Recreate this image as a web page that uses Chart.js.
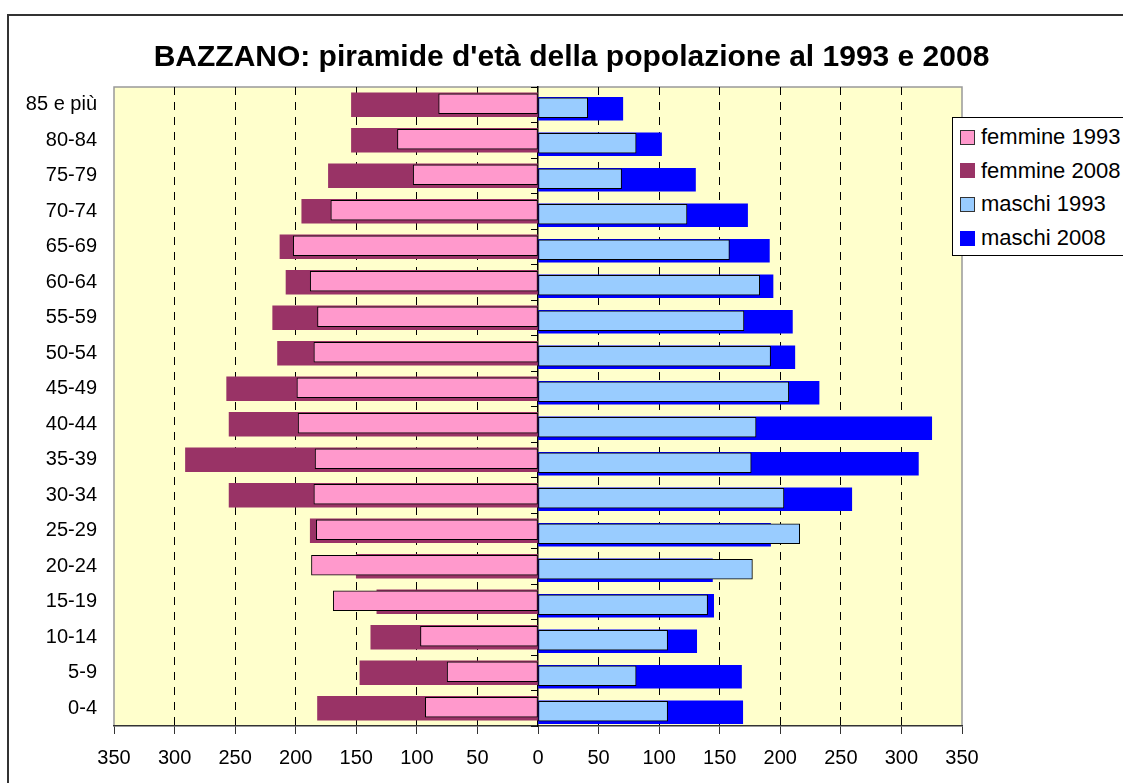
<!DOCTYPE html>
<html><head><meta charset="utf-8">
<script src="https://cdn.jsdelivr.net/npm/chart.js@4.4.1/dist/chart.umd.min.js"></script>
<style>
html,body{margin:0;padding:0;background:#fff;}
#wrap{position:relative;width:1123px;height:783px;overflow:hidden;font-family:'Liberation Sans',Arial,sans-serif;}
#frame{position:absolute;left:7px;top:14px;width:2000px;height:2000px;border-left:2px solid #333;border-top:2px solid #333;}
#c{position:absolute;left:0;top:0;}
#legend{position:absolute;left:952px;top:117px;width:220px;height:137px;background:#fff;border:1px solid #000;}
.item{position:absolute;left:0;height:34px;display:flex;align-items:center;font-size:22px;color:#000;white-space:nowrap;}
.sw{width:15px;height:15px;margin-left:7px;margin-right:6px;box-sizing:border-box;}
</style></head><body>
<div id="wrap"><div id="frame"></div><canvas id="c" width="1123" height="783"></canvas><div id="legend"></div></div>
<script>
// Age classes, top to bottom
const categories = ['85 e più','80-84','75-79','70-74','65-69','60-64','55-59','50-54','45-49','40-44','35-39','30-34','25-29','20-24','15-19','10-14','5-9','0-4'];
const femmine1993 = [82,116,103,171,202,188,182,185,199,198,184,185,183,187,169,97,75,93];
const femmine2008 = [154,154,173,195,213,208,219,215,257,255,291,255,188,150,133,138,147,182];
const maschi1993  = [41,81,69,123,158,183,170,192,207,180,176,203,216,177,140,107,81,107];
const maschi2008  = [70,102,130,173,191,194,210,212,232,325,314,259,192,144,145,131,168,169];
const xTicks = [-350,-300,-250,-200,-150,-100,-50,0,50,100,150,200,250,300,350];
const titleText = "BAZZANO: piramide d'età della popolazione al 1993 e 2008";

const FONT = "'Liberation Sans', Arial, sans-serif";

const datasets = [
  {label:'femmine 1993', data: femmine1993.map(v=>-v), backgroundColor:'#FF99CC', borderColor:'#000', borderWidth:1, barThickness:20, shiftY:-1},
  {label:'femmine 2008', data: femmine2008.map(v=>-v), backgroundColor:'#993366', borderWidth:0, barThickness:24, shiftY:0},
  {label:'maschi 1993', data: maschi1993, backgroundColor:'#99CCFF', borderColor:'#000', borderWidth:1, barThickness:20, shiftY:3},
  {label:'maschi 2008', data: maschi2008, backgroundColor:'#0000FF', borderWidth:0, barThickness:23, shiftY:4}
];
datasets.forEach(d => { d.grouped = false; d.borderSkipped = false; });

const plotBg = {
  id:'plotBg',
  beforeDraw(chart){
    const {ctx, chartArea:a} = chart;
    ctx.save();
    ctx.fillStyle = '#FFFFCC';
    ctx.fillRect(a.left, a.top, a.right-a.left, a.bottom-a.top);
    ctx.strokeStyle = '#999';
    ctx.lineWidth = 1.5;
    ctx.beginPath();
    ctx.moveTo(a.left, a.bottom); ctx.lineTo(a.left, a.top); ctx.lineTo(a.right, a.top); ctx.lineTo(a.right, a.bottom);
    ctx.stroke();
    ctx.restore();
  }
};
const shiftBars = {
  id:'shiftBars',
  beforeDatasetDraw(chart, args){
    const ds = chart.data.datasets[args.index];
    chart.ctx.save();
    chart.ctx.translate(0, ds.shiftY || 0);
  },
  afterDatasetDraw(chart){ chart.ctx.restore(); }
};

const chart = new Chart(document.getElementById('c'), {
  type:'bar',
  data:{ labels: categories, datasets },
  plugins:[plotBg, shiftBars],
  options:{
    indexAxis:'y',
    responsive:false,
    devicePixelRatio:1,
    animation:false,
    layout:{ padding:{ left:20, right:0, top:0, bottom:0 } },
    plugins:{
      legend:{ display:false },
      tooltip:{ enabled:false },
      title:{ display:true, text:titleText, color:'#000', font:{ family:FONT, size:30, weight:'bold', lineHeight:1.2 }, padding:{ top:40, bottom:11 } }
    },
    scales:{
      x:{
        type:'linear', min:-350, max:350,
        afterBuildTicks(s){ s.ticks = xTicks.map(v=>({value:v})); },
        afterFit(s){ s.height = 57; },
        ticks:{ color:'#000', font:{ family:FONT, size:20 }, padding:12, callback:v=>String(Math.abs(v)) },
        grid:{
          color:(c)=> (c.tick && Math.abs(c.tick.value) !== 350 && c.tick.value !== 0) ? '#000' : 'rgba(0,0,0,0)',
          tickColor:'#333', tickLength:8, tickBorderDash:[], lineWidth:1
        },
        border:{ display:true, color:'#333', width:1.5, dash:[8,7] }
      },
      y:{
        type:'category', position:'left', offset:true,
        afterFit(s){ s.width = 94; },
        ticks:{ color:'#000', font:{ family:FONT, size:20 }, padding:17 },
        grid:{ display:false, drawTicks:false },
        border:{ display:false }
      },
      y0:{
        type:'category', position:{ x:0 }, offset:true,
        ticks:{ display:false },
        grid:{ display:true, drawOnChartArea:false, drawTicks:true, tickLength:6, color:'#000', offset:true },
        border:{ display:true, color:'#000', width:1.5 }
      },
      yr:{
        type:'category', position:'right', offset:true,
        afterFit(s){ s.width = 161; },
        ticks:{ display:false },
        grid:{ display:false, drawTicks:false },
        border:{ display:false }
      }
    }
  }
});

// HTML legend built from the datasets
const lg = document.getElementById('legend');
datasets.forEach((d,i)=>{
  const it = document.createElement('div');
  it.className='item';
  it.style.top = (19 + i*33.7 - 17) + 'px';
  const sw = document.createElement('span');
  sw.className='sw';
  sw.style.background = d.backgroundColor;
  if (d.borderWidth) sw.style.border = '1px solid #333';
  const tx = document.createElement('span');
  tx.textContent = d.label;
  it.appendChild(sw); it.appendChild(tx);
  lg.appendChild(it);
});
</script>
</body></html>
